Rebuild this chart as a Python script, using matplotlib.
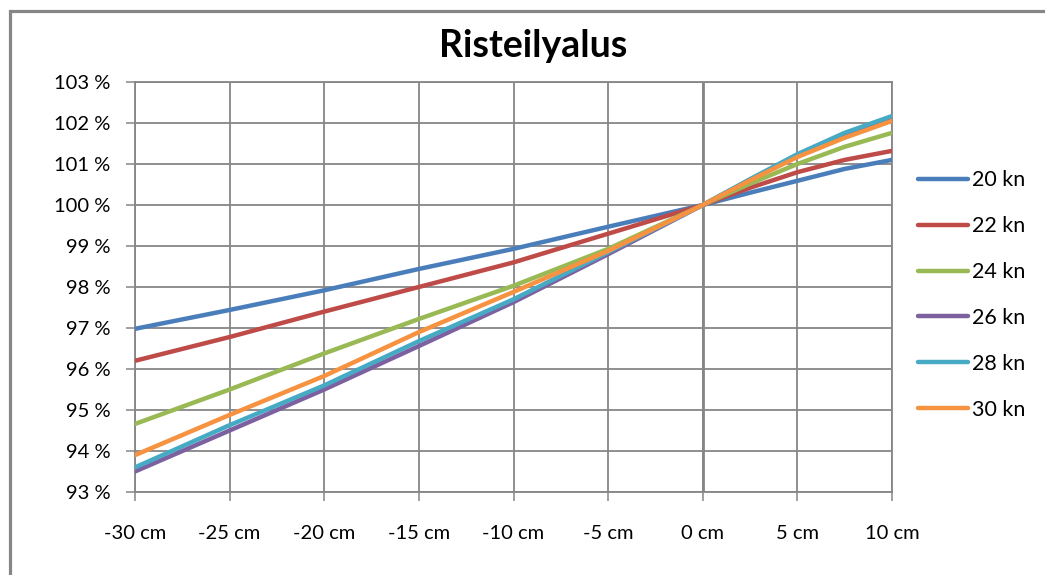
import matplotlib
matplotlib.use('Agg')
import matplotlib.pyplot as plt
from matplotlib.patches import Rectangle

# ── Data ─────────────────────────────────────────────────────────────────────
x_cm = [-30, -25, -20, -15, -10, -5, 0, 2.5, 5, 7.5, 10]
kn20 = [96.98, 97.44, 97.92, 98.44, 98.93, 99.47, 100.0, 100.30, 100.59, 100.88, 101.10]
kn22 = [96.20, 96.78, 97.40, 98.00, 98.60, 99.30, 100.0, 100.42, 100.80, 101.10, 101.32]
kn24 = [94.66, 95.50, 96.38, 97.22, 98.03, 98.93, 100.0, 100.52, 101.00, 101.42, 101.76]
kn26 = [93.50, 94.50, 95.50, 96.56, 97.63, 98.80, 100.0, 100.62, 101.22, 101.74, 102.12]
kn28 = [93.60, 94.63, 95.60, 96.68, 97.70, 98.85, 100.0, 100.63, 101.24, 101.76, 102.17]
kn30 = [93.90, 94.88, 95.83, 96.90, 97.88, 98.88, 100.0, 100.60, 101.17, 101.64, 102.05]

labels = ['20 kn', '22 kn', '24 kn', '26 kn', '28 kn', '30 kn']
colors = ['#4A7EBB', '#BE4B48', '#98B954', '#7D60A0', '#46AAC5', '#F69240']

x_ticks = [-30, -25, -20, -15, -10, -5, 0, 5, 10]
y_ticks = [93, 94, 95, 96, 97, 98, 99, 100, 101, 102, 103]

GRID = '#868686'
plt.rcParams['font.family'] = ['Lato', 'DejaVu Sans']

W, H = 1045, 575
fig = plt.figure(figsize=(W / 100, H / 100), dpi=100)
fig.patch.set_facecolor('white')

# outer chart frame (right/bottom edges fall outside the picture)
fig.patches.append(Rectangle((9.5 / W, -0.2), 1.2, 1 - 10.5 / H + 0.2,
                             transform=fig.transFigure, fill=False,
                             edgecolor=GRID, lw=2.3))

ax = fig.add_axes([135 / W, (H - 492) / H, 757 / W, 410 / H])

for y, lab, c in zip([kn20, kn22, kn24, kn26, kn28, kn30], labels, colors):
    ax.plot(x_cm, y, color=c, lw=3.2, label=lab, solid_capstyle='round', zorder=3)

ax.set_xlim(-30, 10)
ax.set_ylim(93, 103)
ax.set_xticks(x_ticks)
ax.set_xticklabels([f'{v} cm' for v in x_ticks])
ax.set_yticks(y_ticks)
ax.set_yticklabels([f'{v} %' for v in y_ticks])

ax.grid(True, color=GRID, lw=1.3, zorder=1)
ax.axvline(0, color=GRID, lw=2.0, zorder=1)
for s in ax.spines.values():
    s.set_color(GRID)
    s.set_linewidth(1.3)
ax.tick_params(axis='both', colors=GRID, labelcolor='black', labelsize=14.5,
               length=6.5, width=1.1, direction='out')
ax.tick_params(axis='x', pad=17)
ax.tick_params(axis='y', pad=11)

fig.text(533 / W, 1 - 46 / H, 'Risteilyalus', ha='center', va='center',
         fontsize=27, fontweight='bold')

fig.legend(loc='center left', bbox_to_anchor=(918 / W, 1 - 295 / H),
           frameon=False, fontsize=15.5, handlelength=2.3, handletextpad=0.2,
           labelspacing=1.2, borderpad=0, borderaxespad=0)

fig.savefig('out.png', dpi=100)
